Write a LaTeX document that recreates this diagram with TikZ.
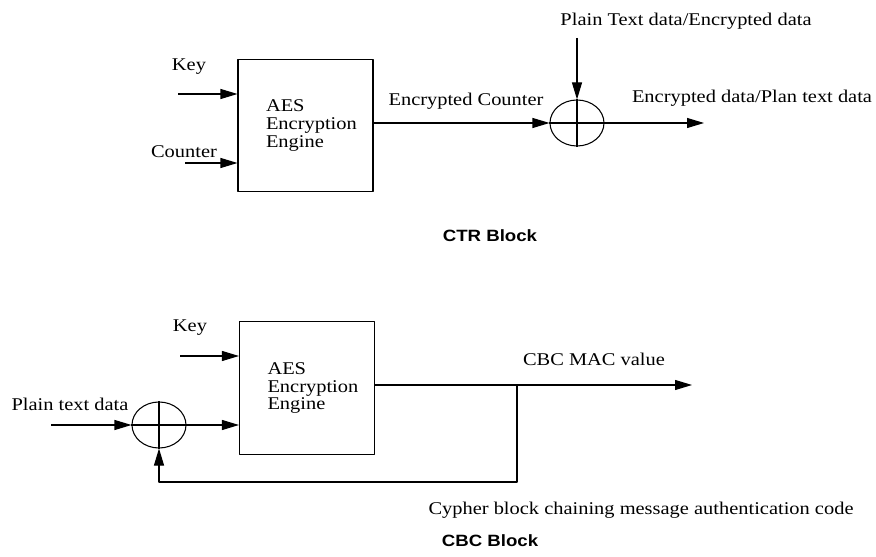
\documentclass[tikz,border=0pt]{standalone}
\usepackage{fontspec}
\setmainfont{Liberation Serif}[FakeStretch=1.14]
\newfontfamily\blocksans{Liberation Sans}[FakeStretch=1.14]
\usetikzlibrary{arrows.meta,shapes.geometric}

\tikzset{
  engine/.style={draw, minimum width=2.7cm, minimum height=2.65cm, inner sep=0pt},
  xorop/.style={draw, ellipse, minimum width=1.08cm, minimum height=0.92cm, inner sep=0pt},
  lbl/.style={inner sep=0pt},
  caption/.style={inner sep=0pt, font=\blocksans\bfseries\fontsize{9.3}{11}\selectfont},
  flow/.style={-{Triangle[length=3.4mm,width=2mm]}},
}

\begin{document}
\begin{tikzpicture}[x=0.2cm, y=-0.2cm, line width=0.6pt, line join=round,
    font=\fontsize{10.2}{10}\selectfont]
\useasboundingbox (0,0) rectangle (87.6,55.7);

% CTR mode
\node[engine] (ctraes) at (30.55,12.55) {};
\node[lbl, align=left, anchor=west] (ctrname) at ([xshift=0.56cm]ctraes.west) {AES\\Encryption\\Engine};
\node[xorop] (ctrxor) at (57.7,12.3) {};
\draw (ctrxor.north) -- (ctrxor.south) (ctrxor.west) -- (ctrxor.east);
\path
(17.8,9.4) coordinate (ctrkeyin)
(18.5,16.3) coordinate (ctrcntin)
(57.7,3.8) coordinate (ctrptin)
(70.4,12.3) coordinate (ctrout)
;
\node[lbl] (ctrkey) at (18.9,6.7) {Key};
\node[lbl] (ctrcnt) at (18.4,15.2) {Counter};
\node[lbl] (ctrenc) at (46.6,10.1) {Encrypted Counter};
\node[lbl] (ctrpt) at (68.6,2.1) {Plain Text data/Encrypted data};
\node[lbl] (ctrres) at (75.2,9.8) {Encrypted data/Plan text data};
\draw[flow] (ctrkeyin) -- (ctrkeyin -| ctraes.west);
\draw[flow] (ctrcntin) -- (ctrcntin -| ctraes.west);
\draw[flow] (ctraes.east |- ctrxor) -- (ctrxor.west);
\draw[flow] (ctrptin) -- (ctrxor.north);
\draw[flow] (ctrxor.east) -- (ctrout);
\node[caption] (ctrcap) at (49,23.6) {CTR Block};

% CBC-MAC
\node[engine] (cbcaes) at (30.7,38.8) {};
\node[lbl, align=left, anchor=west] (cbcname) at ([xshift=0.56cm]cbcaes.west) {AES\\Encryption\\Engine};
\node[xorop] (cbcxor) at (15.9,42.5) {};
\draw (cbcxor.north) -- (cbcxor.south) (cbcxor.west) -- (cbcxor.east);
\path
(18,35.6) coordinate (cbckeyin)
(5.1,42.5) coordinate (cbcptin)
(69.2,38.5) coordinate (cbcout)
(51.7,38.5) coordinate (cbctap)
(51.7,48.2) coordinate (cbcloop)
;
\node[lbl] (cbckey) at (19,32.8) {Key};
\node[lbl] (cbcpt) at (7,40.4) {Plain text data};
\node[lbl] (cbcmac) at (59.4,35.9) {CBC MAC value};
\node[lbl] (cbcnote) at (64.1,51.0) {Cypher block chaining message authentication code};
\draw[flow] (cbckeyin) -- (cbckeyin -| cbcaes.west);
\draw[flow] (cbcptin) -- (cbcxor.west);
\draw[flow] (cbcxor.east) -- (cbcxor.east -| cbcaes.west);
\draw[flow] (cbcaes.east |- cbcout) -- (cbcout);
\draw[flow] (cbctap) -- (cbcloop) -| (cbcxor.south);
\node[caption] (cbccap) at (49,54.1) {CBC Block};
\end{tikzpicture}
\end{document}
